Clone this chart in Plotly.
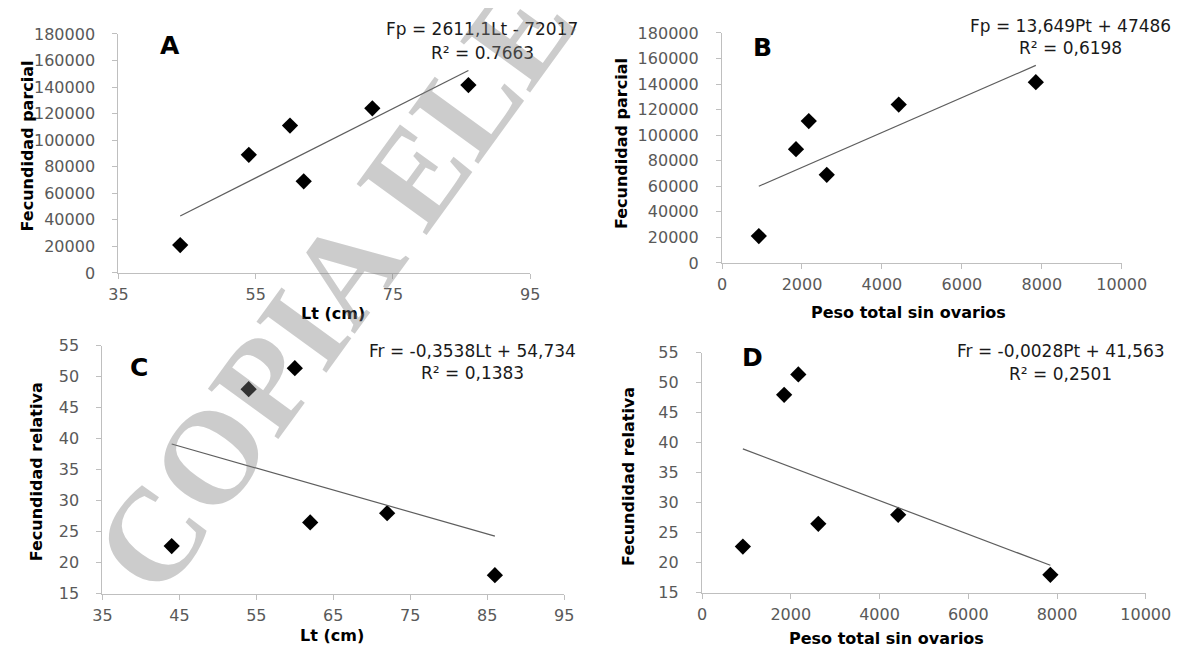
import plotly.graph_objects as go

# ---------------- data ----------------
lt_cm = [44, 54, 60, 62, 72, 86]
peso_total = [920, 1850, 2170, 2620, 4420, 7850]
fec_parcial = [21000, 89000, 111000, 69000, 124000, 141500]
fec_relativa = [22.7, 48.0, 51.4, 26.5, 28.0, 18.0]

# trendline coefficients as printed on the chart
trend_slopes = [2611.1, 13.649, -0.3538, -0.0028]
trend_intercepts = [-72017, 47486, 54.734, 41.563]

equations = ["Fp = 2611,1Lt - 72017", "Fp = 13,649Pt + 47486",
             "Fr = -0,3538Lt + 54,734", "Fr = -0,0028Pt + 41,563"]
r2_labels = ["R² = 0.7663", "R² = 0,6198", "R² = 0,1383", "R² = 0,2501"]
panel_letters = ["A", "B", "C", "D"]
x_titles = ["Lt (cm)", "Peso total sin ovarios", "Lt (cm)", "Peso total sin ovarios"]
y_titles = ["Fecundidad parcial", "Fecundidad parcial",
            "Fecundidad relativa", "Fecundidad relativa"]
watermark = "COPIA ELECTRÓNICA"

x_data = [lt_cm, peso_total, lt_cm, peso_total]
y_data = [fec_parcial, fec_parcial, fec_relativa, fec_relativa]
x_ranges = [[35, 95], [0, 10000], [35, 95], [0, 10000]]
x_dticks = [20, 2000, 10, 2000]
y_ranges = [[0, 180000], [0, 180000], [15, 55], [15, 55]]
y_dticks = [20000, 20000, 5, 5]

# ---------------- layout geometry (target screen pixels) ----------------
W, H = 1181, 646
boxes = [(118, 530, 272, 33), (722, 1122, 262, 32),
         (102, 564, 593, 345), (702, 1146, 592, 352)]
letter_pos = [(170, 45), (762, 47), (139, 367), (752, 357)]
eq_pos = [(482, 28, 52), (1071, 25, 47), (472, 350, 372), (1061, 350, 373)]
xt_pos = [(333, 313), (909, 312), (332, 635), (887, 638)]
yt_pos = [(27, 145), (622, 143), (36, 471), (629, 476)]

# the rendered page shows the figure slightly scaled and offset
SC, OX, OY = 0.971, 17.5, 16.0


def px(x):
    return ((x - OX) / SC) / W


def py(y):
    return 1 - ((y - OY) / SC) / H


FONT = "DejaVu Sans"
AXCOL = "#bfbfbf"
TICKCOL = "#595959"

fig = go.Figure()
annotations = []
layout_axes = {}


def note(text, x, y, size, color="black", angle=0, family=FONT):
    return dict(text=text, x=px(x), y=py(y), xref="paper", yref="paper",
                xanchor="center", yanchor="middle", showarrow=False,
                textangle=angle, font=dict(family=family, size=size, color=color))


for i in range(4):
    sfx = "" if i == 0 else str(i + 1)
    xa, ya = "x" + sfx, "y" + sfx
    xs, ys = x_data[i], y_data[i]
    fig.add_trace(go.Scatter(
        x=xs, y=ys, mode="markers", xaxis=xa, yaxis=ya,
        marker=dict(symbol="diamond", size=12.5, color="black"),
        showlegend=False, hoverinfo="x+y"))
    x0, x1 = min(xs), max(xs)
    fig.add_trace(go.Scatter(
        x=[x0, x1],
        y=[trend_slopes[i] * x0 + trend_intercepts[i],
           trend_slopes[i] * x1 + trend_intercepts[i]],
        mode="lines", xaxis=xa, yaxis=ya,
        line=dict(color="#5e5e5e", width=1.2),
        showlegend=False, hoverinfo="skip"))

    l, r, b, t = boxes[i]
    common = dict(showgrid=False, zeroline=False, showline=True,
                  linecolor=AXCOL, linewidth=1.3, ticks="outside",
                  ticklen=5, tickcolor=AXCOL, tickwidth=1,
                  tickfont=dict(family=FONT, size=16, color=TICKCOL))
    layout_axes["xaxis" + sfx] = dict(
        common, domain=[px(l), px(r)], range=x_ranges[i],
        dtick=x_dticks[i], tick0=x_ranges[i][0], anchor=ya,
        tickformat="d", ticklabelstandoff=2)
    layout_axes["yaxis" + sfx] = dict(
        common, domain=[py(b), py(t)], range=y_ranges[i],
        dtick=y_dticks[i], tick0=y_ranges[i][0], anchor=xa,
        tickformat="d", ticklabelstandoff=14)

    lx, ly = letter_pos[i]
    annotations.append(note("<b>%s</b>" % panel_letters[i], lx, ly, 25))
    ex, ey1, ey2 = eq_pos[i]
    annotations.append(note(equations[i], ex, ey1, 17, "#1a1a1a"))
    annotations.append(note(r2_labels[i], ex, ey2, 17, "#1a1a1a"))
    tx, ty = xt_pos[i]
    annotations.append(note("<b>%s</b>" % x_titles[i], tx, ty, 16))
    vx, vy = yt_pos[i]
    annotations.append(note("<b>%s</b>" % y_titles[i], vx, vy, 16, angle=-90))

# diagonal watermark
annotations.append(note("<b>%s</b>" % watermark, 545, -6, 132,
                        "rgba(128,128,128,0.40)", angle=-54,
                        family="Liberation Serif"))

fig.update_layout(
    width=W, height=H, margin=dict(l=0, r=0, t=0, b=0),
    paper_bgcolor="white", plot_bgcolor="white",
    annotations=annotations, **layout_axes)

fig.write_html("out.html")
